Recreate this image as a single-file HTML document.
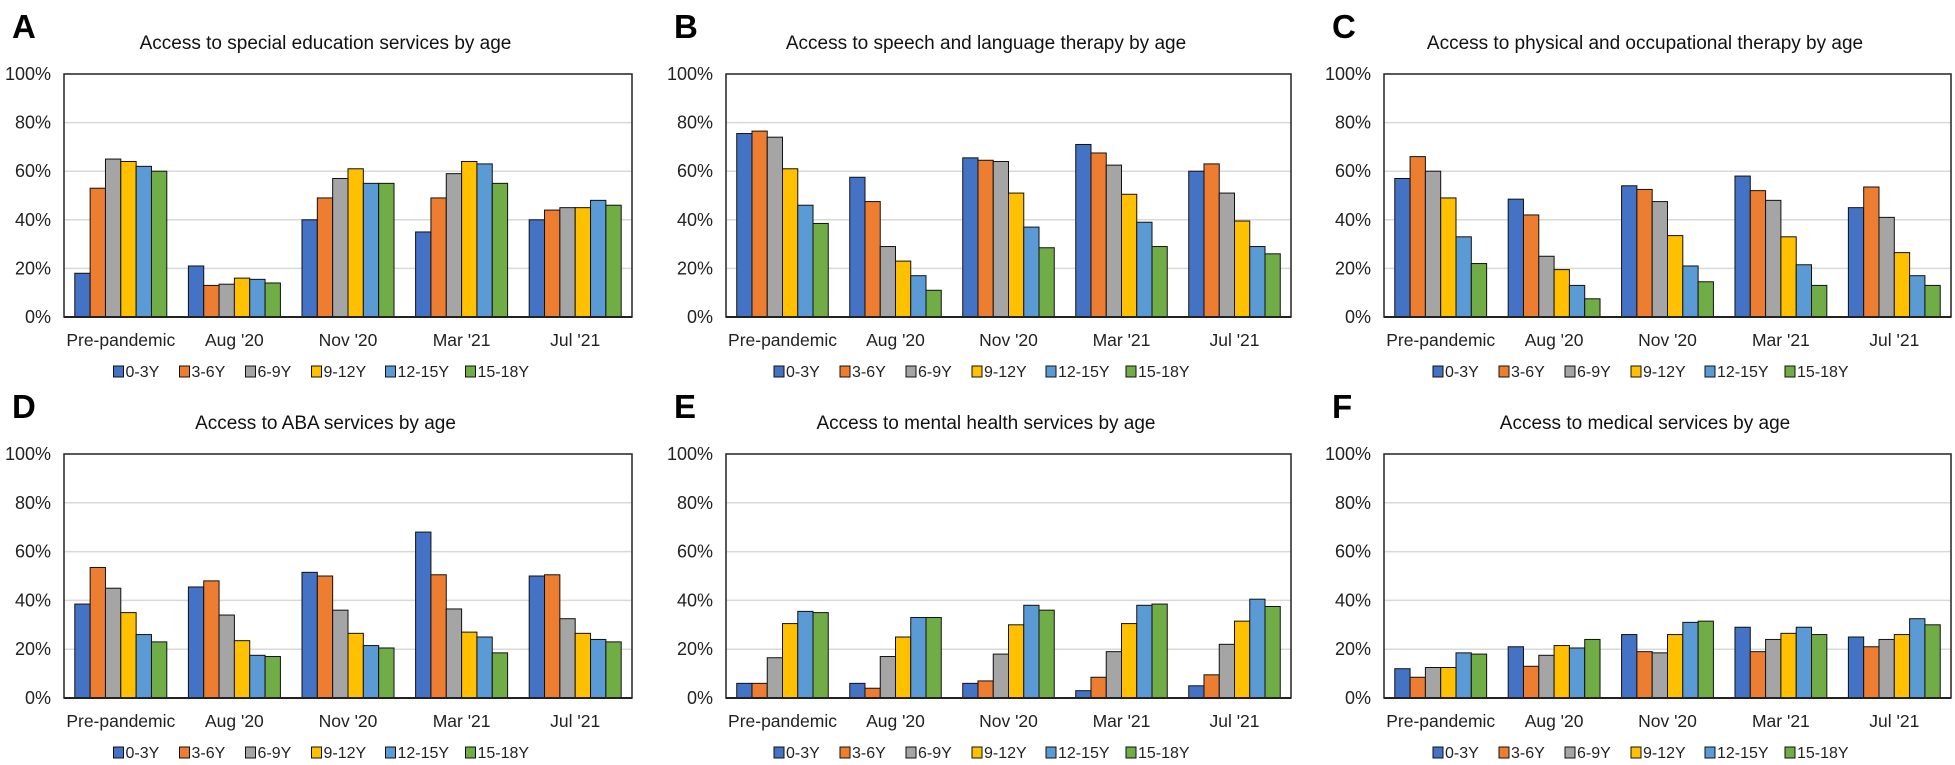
<!DOCTYPE html>
<html><head><meta charset="utf-8"><style>
body{margin:0;background:#fff;}
svg{display:block;font-family:"Liberation Sans",Arial,sans-serif;}
</style></head><body>
<svg id="fig" width="1955" height="765" viewBox="0 0 1955 765"></svg>
<script>
const categories = ["Pre-pandemic","Aug '20","Nov '20","Mar '21","Jul '21"];
const seriesNames = ["0-3Y","3-6Y","6-9Y","9-12Y","12-15Y","15-18Y"];
const yTicks = [0,20,40,60,80,100];
const panelLetters = ["A","B","C","D","E","F"];
const panelTitles = ["Access to special education services by age","Access to speech and language therapy by age","Access to physical and occupational therapy by age","Access to ABA services by age","Access to mental health services by age","Access to medical services by age"];
const valuesA = [[18,53,65,64,62,60],[21,13,13.5,16,15.5,14],[40,49,57,61,55,55],[35,49,59,64,63,55],[40,44,45,45,48,46]];
const valuesB = [[75.5,76.5,74,61,46,38.5],[57.5,47.5,29,23,17,11],[65.5,64.5,64,51,37,28.5],[71,67.5,62.5,50.5,39,29],[60,63,51,39.5,29,26]];
const valuesC = [[57,66,60,49,33,22],[48.5,42,25,19.5,13,7.5],[54,52.5,47.5,33.5,21,14.5],[58,52,48,33,21.5,13],[45,53.5,41,26.5,17,13]];
const valuesD = [[38.5,53.5,45,35,26,23],[45.5,48,34,23.5,17.5,17],[51.5,50,36,26.5,21.5,20.5],[68,50.5,36.5,27,25,18.5],[50,50.5,32.5,26.5,24,23]];
const valuesE = [[6,6,16.5,30.5,35.5,35],[6,4,17,25,33,33],[6,7,18,30,38,36],[3,8.5,19,30.5,38,38.5],[5,9.5,22,31.5,40.5,37.5]];
const valuesF = [[12,8.5,12.5,12.5,18.5,18],[21,13,17.5,21.5,20.5,24],[26,19,18.5,26,31,31.5],[29,19,24,26.5,29,26],[25,21,24,26,32.5,30]];
const allValues = [valuesA,valuesB,valuesC,valuesD,valuesE,valuesF];
const colors = ["#4472C4","#ED7D31","#A5A5A5","#FFC000","#5B9BD5","#70AD47"];

const NS="http://www.w3.org/2000/svg";
const svg=document.getElementById('fig');
function mk(tag,attrs,parent){const e=document.createElementNS(NS,tag);for(const k in attrs)e.setAttribute(k,attrs[k]);(parent||svg).appendChild(e);return e;}
const colX=[[64,632],[726,1291],[1384,1951]];
const rowY=[[74,317],[454,698]];

allValues.forEach((vals,p)=>{
  const [L,R]=colX[p%3], [T,B]=rowY[Math.floor(p/3)];
  const g=mk('g',{});
  
  
  const y=v=>B-(v/100)*(B-T);
  const gw=(R-L)/categories.length;
  const bw=gw*0.135, gap=(gw-6*bw)/2;
  const x=(ci,si)=>L+ci*gw+gap+si*bw;
  const letter=mk('text',{x:L-52,y:T-36,'font-size':33,'font-weight':'bold',fill:'#000'},g);
  letter.textContent=panelLetters[p];
  
  
  const cx=(L-45+R)/2;
  const t=mk('text',{x:cx,y:T-25,'font-size':19,'text-anchor':'middle',fill:'#111'},g);
  t.textContent=panelTitles[p];
  
  
  yTicks.forEach(v=>{
    if(v>0&&v<100){const gl=mk('line',{x1:L,x2:R,y1:y(v),y2:y(v),stroke:'#d9d9d9','stroke-width':1.5},g);
    
    }
    const tl=mk('text',{x:L-13,y:y(v)+6,'font-size':18,'text-anchor':'end',fill:'#222'},g);
    tl.textContent=v+'%';
    
    
  });
  const box=mk('rect',{x:L,y:T,width:R-L,height:B-T,fill:'none',stroke:'#222','stroke-width':1.5},g);
  
  
  vals.forEach((grp,ci)=>{
    grp.forEach((v,si)=>{
      const r=mk('rect',{x:x(ci,si),y:y(v),width:bw,height:B-y(v),fill:colors[si],stroke:'#111','stroke-width':1},g);
      
      
    });
    const cl=mk('text',{x:L+ci*gw+gw/2,y:B+29,'font-size':17.5,'text-anchor':'middle',fill:'#222'},g);
    cl.textContent=categories[ci];
    
    
  });
  const ax=mk('line',{x1:L,x2:R,y1:B,y2:B,stroke:'#222','stroke-width':2},g);
  
  
  const lw=[66,66,66,74,80,80];
  const total=lw.reduce((a,b)=>a+b,0);
  let lx=cx-total/2+4;
  const ly=B+60;
  seriesNames.forEach((n,si)=>{
    const le=mk('g',{},g);
    
    
    mk('rect',{x:lx,y:ly-11,width:10,height:11,fill:colors[si],stroke:'#111','stroke-width':1},le);
    const lt=mk('text',{x:lx+12,y:ly,'font-size':16,fill:'#222'},le);
    lt.textContent=n;
    lx+=lw[si];
  });
});
</script>
</body></html>
